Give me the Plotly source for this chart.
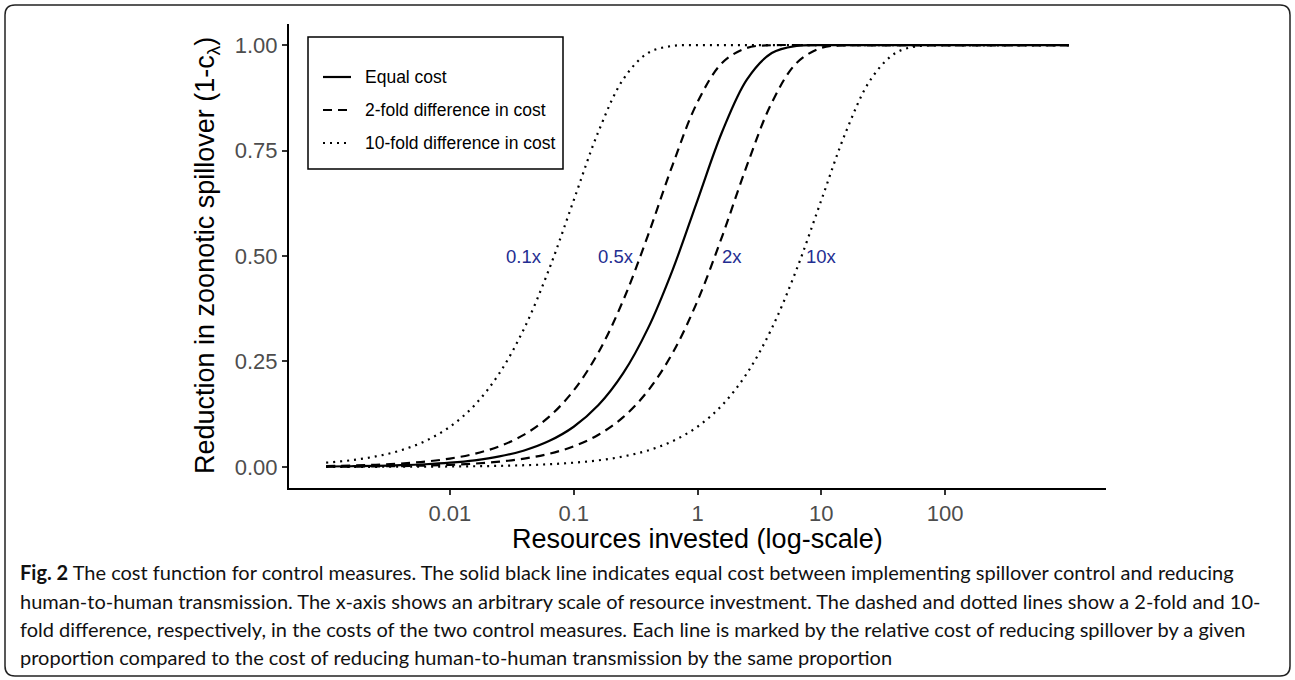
import math
import plotly.graph_objects as go

# ---------------- data ----------------
x_vals = [0.001, 0.001585, 0.002512, 0.003981, 0.00631, 0.01, 0.01585, 0.02512,
          0.03981, 0.0631, 0.1, 0.1585, 0.2512, 0.3981, 0.631, 1, 1.585, 2.512,
          3.981, 6.31, 10, 15.85, 25.12, 39.81, 63.1, 100, 158.5, 251.2, 398.1,
          631, 1000]

equal_cost = [0.0010, 0.0016, 0.0025, 0.0040, 0.0063, 0.0100, 0.0157, 0.0248,
              0.0390, 0.0612, 0.0952, 0.1466, 0.2222, 0.3284, 0.4679, 0.6321,
              0.7951, 0.9189, 0.9813, 0.9982, 1.0, 1.0, 1.0, 1.0, 1.0, 1.0,
              1.0, 1.0, 1.0, 1.0, 1.0]
cost_0_5x = [0.0020, 0.0032, 0.0050, 0.0079, 0.0125, 0.0198, 0.0312, 0.0490,
             0.0765, 0.1186, 0.1813, 0.2716, 0.3949, 0.5490, 0.7169, 0.8647,
             0.9580, 0.9934, 0.9997, 1.0, 1.0, 1.0, 1.0, 1.0, 1.0, 1.0, 1.0,
             1.0, 1.0, 1.0, 1.0]
cost_2x = [0.0005, 0.0008, 0.0013, 0.0020, 0.0032, 0.0050, 0.0079, 0.0125,
           0.0197, 0.0311, 0.0488, 0.0762, 0.1180, 0.1805, 0.2706, 0.3935,
           0.5473, 0.7152, 0.8633, 0.9574, 0.9933, 0.9996, 1.0, 1.0, 1.0, 1.0,
           1.0, 1.0, 1.0, 1.0, 1.0]
cost_0_1x = [0.0100, 0.0157, 0.0248, 0.0390, 0.0612, 0.0952, 0.1466, 0.2222,
             0.3284, 0.4679, 0.6321, 0.7951, 0.9189, 0.9813, 0.9982, 1.0, 1.0,
             1.0, 1.0, 1.0, 1.0, 1.0, 1.0, 1.0, 1.0, 1.0, 1.0, 1.0, 1.0, 1.0, 1.0]
cost_10x = [0.0001, 0.0002, 0.0003, 0.0004, 0.0006, 0.0010, 0.0016, 0.0025,
            0.0040, 0.0063, 0.0100, 0.0157, 0.0248, 0.0390, 0.0612, 0.0952,
            0.1466, 0.2222, 0.3284, 0.4679, 0.6321, 0.7951, 0.9189, 0.9813,
            0.9982, 1.0, 1.0, 1.0, 1.0, 1.0, 1.0]

label_text = ["0.1x", "0.5x", "2x", "10x"]
label_x = [0.04, 0.22, 1.9, 10]
label_y = [0.5, 0.5, 0.5, 0.5]

x_tick_vals = [0.01, 0.1, 1, 10, 100]
x_tick_text = ["0.01", "0.1", "1", "10", "100"]
y_tick_vals = [0, 0.25, 0.5, 0.75, 1.0]
y_tick_text = ["0.00", "0.25", "0.50", "0.75", "1.00"]

legend_names = ["Equal cost", "2-fold difference in cost", "10-fold difference in cost"]

caption_lines = [
    "<b>Fig. 2</b> The cost function for control measures. The solid black line indicates equal cost between implementing spillover control and reducing",
    "human-to-human transmission. The x-axis shows an arbitrary scale of resource investment. The dashed and dotted lines show a 2-fold and 10-",
    "fold difference, respectively, in the costs of the two control measures. Each line is marked by the relative cost of reducing spillover by a given",
    "proportion compared to the cost of reducing human-to-human transmission by the same proportion",
]

# ---------------- layout geometry ----------------
W, H = 1295, 680
PL, PR, PT, PB = 289, 1106, 24, 488   # plot area in pixels
PW, PH = PR - PL, PB - PT


def px_x(px):
    return (px - PL) / PW


def px_y(py):
    return (PB - py) / PH


FONT = "Liberation Sans, Arial, sans-serif"
DOT = "2px,5px"
DASH = "9px,6px"

fig = go.Figure()

curves = [
    (cost_0_1x, DOT), (cost_10x, DOT),
    (cost_0_5x, DASH), (cost_2x, DASH),
    (equal_cost, "solid"),
]
for ys, dash in curves:
    fig.add_trace(go.Scatter(
        x=x_vals, y=ys, mode="lines",
        line=dict(color="black", width=2.2, dash=dash, shape="spline", smoothing=1),
        showlegend=False, hoverinfo="skip",
    ))

# curve labels (annotation x on a log axis is given in log10 units)
for t, lx, ly in zip(label_text, label_x, label_y):
    fig.add_annotation(x=math.log10(lx), y=ly, xref="x", yref="y", text=t, showarrow=False,
                       font=dict(family=FONT, size=18.5, color="#232D91"),
                       xanchor="center", yanchor="middle")

# manual legend (box, keys, labels)
shapes = []
shapes.append(dict(type="rect", xref="paper", yref="paper",
                   x0=px_x(308), x1=px_x(563), y0=px_y(169), y1=px_y(37),
                   line=dict(color="black", width=1.5), fillcolor="white", layer="above"))
legend_dashes = ["solid", DASH, DOT]
legend_rows = [77, 110, 143]
for name, dash, row in zip(legend_names, legend_dashes, legend_rows):
    shapes.append(dict(type="line", xref="paper", yref="paper",
                       x0=px_x(323), x1=px_x(351), y0=px_y(row), y1=px_y(row),
                       line=dict(color="black", width=2.2, dash=dash), layer="above"))
    fig.add_annotation(x=px_x(363), y=px_y(row), xref="paper", yref="paper",
                       text=name, showarrow=False, xanchor="left", yanchor="middle",
                       font=dict(family=FONT, size=17.5, color="black"))

# outer rounded border
bx0, bx1, by0, by1, r = 5, 1290, 5, 676, 10
X = px_x
Y = px_y
path = (f"M {X(bx0 + r)},{Y(by0)} L {X(bx1 - r)},{Y(by0)} Q {X(bx1)},{Y(by0)} {X(bx1)},{Y(by0 + r)} "
        f"L {X(bx1)},{Y(by1 - r)} Q {X(bx1)},{Y(by1)} {X(bx1 - r)},{Y(by1)} "
        f"L {X(bx0 + r)},{Y(by1)} Q {X(bx0)},{Y(by1)} {X(bx0)},{Y(by1 - r)} "
        f"L {X(bx0)},{Y(by0 + r)} Q {X(bx0)},{Y(by0)} {X(bx0 + r)},{Y(by0)} Z")
shapes.append(dict(type="path", xref="paper", yref="paper", path=path,
                   line=dict(color="#222222", width=1.5)))

# axis titles
fig.add_annotation(x=0.5, y=px_y(539), xref="paper", yref="paper",
                   text="Resources invested (log-scale)", showarrow=False,
                   xanchor="center", yanchor="middle",
                   font=dict(family=FONT, size=27, color="black"))
fig.add_annotation(x=px_x(207), y=0.5, xref="paper", yref="paper",
                   text="Reduction in zoonotic spillover (1-c<sub>λ</sub>)", showarrow=False,
                   textangle=-90, xanchor="center", yanchor="middle",
                   font=dict(family=FONT, size=27, color="black"))

# caption
cap_rows = [572, 601, 629, 657]
for line, row in zip(caption_lines, cap_rows):
    fig.add_annotation(x=px_x(18), y=px_y(row), xref="paper", yref="paper",
                       text=line, showarrow=False, xanchor="left", yanchor="middle",
                       align="left",
                       font=dict(family="Lato, Open Sans, sans-serif", size=20, color="#111111"))

fig.update_layout(
    width=W, height=H, autosize=False,
    margin=dict(l=PL, r=W - PR, t=PT, b=H - PB, pad=0),
    paper_bgcolor="white", plot_bgcolor="white",
    shapes=shapes,
    showlegend=False,
)
fig.update_xaxes(
    type="log", range=[-3.3, 3.3],
    tickvals=x_tick_vals, ticktext=x_tick_text,
    showgrid=False, zeroline=False,
    showline=True, linecolor="black", linewidth=2,
    ticks="outside", ticklen=5, tickwidth=1.5, tickcolor="#333333",
    tickfont=dict(family=FONT, size=22, color="#4D4D4D"),
)
fig.update_yaxes(
    range=[-0.05, 1.05],
    tickvals=y_tick_vals, ticktext=y_tick_text,
    showgrid=False, zeroline=False,
    showline=True, linecolor="black", linewidth=2,
    ticks="outside", ticklen=5, tickwidth=1.5, tickcolor="#333333",
    tickfont=dict(family=FONT, size=22, color="#4D4D4D"),
)

fig.write_html("out.html", config={"displayModeBar": False},
               post_script="document.body.style.margin='0px';")
